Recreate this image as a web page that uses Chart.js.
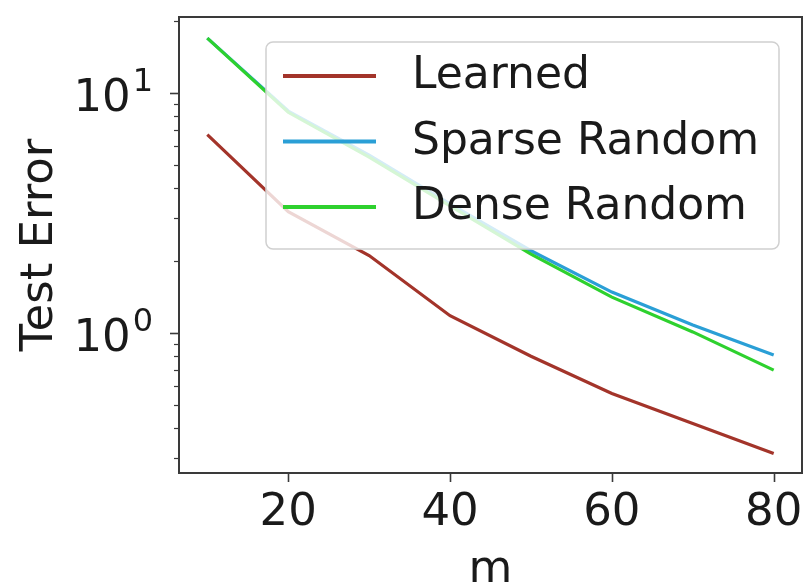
<!DOCTYPE html>
<html>
<head>
<meta charset="utf-8">
<script src="https://cdn.jsdelivr.net/npm/chart.js@4.4.1/dist/chart.umd.min.js"></script>
<style>
html,body{margin:0;padding:0;background:#ffffff;}
#wrap{width:806px;height:588px;}
</style>
</head>
<body>
<div id="wrap"><canvas id="c" width="806" height="588"></canvas></div>
<script>
// ---- data ----
const mValues = [10, 20, 30, 40, 50, 60, 70, 80];
const learned = [6.7, 3.2, 2.1, 1.18, 0.80, 0.56, 0.42, 0.315];
const sparseRandom = [16.9, 8.4, 5.5, 3.45, 2.2, 1.48, 1.08, 0.81];
const denseRandom = [16.9, 8.3, 5.4, 3.38, 2.13, 1.41, 1.01, 0.70];
const seriesNames = ['Learned', 'Sparse Random', 'Dense Random'];
const xTicks = [20, 40, 60, 80];
const yMajorTicks = [1, 10];
const yMajorExponents = ['0', '1'];
const yMinorTicks = [0.3, 0.4, 0.5, 0.6, 0.7, 0.8, 0.9, 2, 3, 4, 5, 6, 7, 8, 9, 20];
const xLabel = 'm';
const yLabel = 'Test Error';

const FONT = 'DejaVu Sans';
const toPts = arr => mValues.map((m, i) => ({x: m, y: arr[i]}));

const boxPlugin = {
  id: 'boxAndTicks',
  afterDraw(chart) {
    const ctx = chart.ctx;
    const a = chart.chartArea;
    const xs = chart.scales.x, ys = chart.scales.y;
    ctx.save();
    ctx.strokeStyle = '#3a3a3a';
    ctx.lineWidth = 1.6;
    xTicks.forEach(v => {
      const px = Math.round(xs.getPixelForValue(v)) + 0.5;
      ctx.beginPath(); ctx.moveTo(px, a.bottom); ctx.lineTo(px, a.bottom + 9); ctx.stroke();
    });
    yMajorTicks.forEach((v, i) => {
      const py = Math.round(ys.getPixelForValue(v)) + 0.5;
      ctx.beginPath(); ctx.moveTo(a.left, py); ctx.lineTo(a.left - 9, py); ctx.stroke();
      ctx.fillStyle = '#1a1a1a';
      ctx.textBaseline = 'alphabetic';
      ctx.textAlign = 'right';
      ctx.font = '32px "' + FONT + '"';
      const supW = ctx.measureText(yMajorExponents[i]).width;
      const rightX = a.left - 26;
      ctx.fillText(yMajorExponents[i], rightX, py - 3);
      ctx.font = '45px "' + FONT + '"';
      ctx.fillText('10', rightX - supW - 2, py + 17);
    });
    ctx.lineWidth = 1.2;
    yMinorTicks.forEach(v => {
      const py = Math.round(ys.getPixelForValue(v)) + 0.5;
      if (py < a.top || py > a.bottom) return;
      ctx.beginPath(); ctx.moveTo(a.left, py); ctx.lineTo(a.left - 5, py); ctx.stroke();
    });
    ctx.lineWidth = 2;
    ctx.strokeRect(a.left, a.top, a.right - a.left, a.bottom - a.top);
    ctx.restore();
  }
};

const legendPlugin = {
  id: 'boxLegend',
  afterDatasetsDraw(chart) {
    const ctx = chart.ctx;
    const a = chart.chartArea;
    const x0 = a.left + 87, y0 = a.top + 25, w = 513, h = 207, r = 7;
    ctx.save();
    ctx.beginPath();
    ctx.moveTo(x0 + r, y0);
    ctx.arcTo(x0 + w, y0, x0 + w, y0 + h, r);
    ctx.arcTo(x0 + w, y0 + h, x0, y0 + h, r);
    ctx.arcTo(x0, y0 + h, x0, y0, r);
    ctx.arcTo(x0, y0, x0 + w, y0, r);
    ctx.closePath();
    ctx.fillStyle = 'rgba(255,255,255,0.8)';
    ctx.fill();
    ctx.strokeStyle = '#d0d0d0';
    ctx.lineWidth = 1.5;
    ctx.stroke();
    chart.data.datasets.forEach((ds, i) => {
      const cy = y0 + 34 + i * 65.5;
      ctx.strokeStyle = ds.borderColor;
      ctx.lineWidth = 4;
      ctx.beginPath(); ctx.moveTo(x0 + 17, cy); ctx.lineTo(x0 + 110, cy); ctx.stroke();
      ctx.fillStyle = '#1a1a1a';
      ctx.font = '44px "' + FONT + '"';
      ctx.textBaseline = 'middle';
      ctx.textAlign = 'left';
      ctx.fillText(ds.label, x0 + 146, cy + 1);
    });
    ctx.restore();
  }
};

new Chart(document.getElementById('c'), {
  type: 'line',
  data: {
    datasets: [
      {label: seriesNames[0], data: toPts(learned), borderColor: '#a3342a', borderWidth: 3.2, order: 2},
      {label: seriesNames[1], data: toPts(sparseRandom), borderColor: '#2a9fd6', borderWidth: 3.2, order: 1},
      {label: seriesNames[2], data: toPts(denseRandom), borderColor: '#2ed12e', borderWidth: 3.2, order: 0}
    ]
  },
  options: {
    responsive: false,
    animation: false,
    devicePixelRatio: 1,
    layout: {padding: {left: 0, right: 4, top: 17, bottom: 0}},
    elements: {point: {radius: 0}, line: {tension: 0}},
    plugins: {legend: {display: false}, tooltip: {enabled: false}},
    scales: {
      x: {
        type: 'linear', min: 6.5, max: 83.5,
        afterBuildTicks: s => { s.ticks = xTicks.map(v => ({value: v})); },
        afterFit: s => { s.height = 115; s.paddingLeft = 0; s.paddingRight = 0; },
        grid: {display: false, drawTicks: false},
        border: {display: false},
        ticks: {color: '#1a1a1a', font: {family: FONT, size: 45}, padding: 13, maxRotation: 0, autoSkip: false, callback: v => String(v)},
        title: {display: true, text: xLabel, color: '#1a1a1a', font: {family: FONT, size: 45, lineHeight: 0.8}, padding: {top: 0, bottom: 0}}
      },
      y: {
        type: 'logarithmic', min: 0.261, max: 20.7,
        afterBuildTicks: s => { s.ticks = yMajorTicks.concat(yMinorTicks).map(v => ({value: v})); },
        afterFit: s => { s.width = 179; s.paddingTop = 0; s.paddingBottom = 0; },
        grid: {display: false, drawTicks: false},
        border: {display: false},
        ticks: {display: false, autoSkip: false},
        title: {display: true, text: yLabel, color: '#1a1a1a', font: {family: FONT, size: 45}, padding: {top: 13, bottom: 0}}
      }
    }
  },
  plugins: [legendPlugin, boxPlugin]
});
</script>
</body>
</html>
